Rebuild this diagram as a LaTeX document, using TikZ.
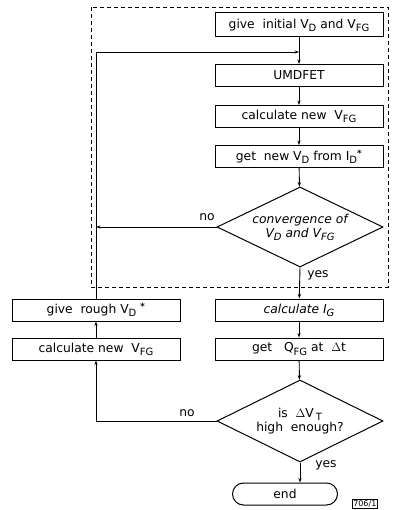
\documentclass[tikz,border=0pt]{standalone}
\usepackage{fontspec}
\setmainfont{DejaVu Sans}
\usetikzlibrary{shapes.geometric,arrows.meta}
\newcommand\sbs[1]{\raisebox{-0.45ex}{\fontsize{10}{11}\selectfont #1}}
\begin{document}
\begin{tikzpicture}[x=1pt,y=-1pt,
  font=\fontsize{12.3}{14}\selectfont,
  box/.style={draw,line width=1pt,minimum width=168pt,minimum height=22pt,inner sep=0pt},
  dia/.style={draw,line width=1pt,diamond,aspect=2,inner sep=0pt,minimum width=166pt,minimum height=80pt,align=center},
  arr/.style={line width=0.9pt,-{Stealth[length=4.5pt,width=3.2pt]}},
  lab/.style={inner sep=1pt}]
\useasboundingbox (0,0) rectangle (393,510);
\draw[line width=0.9pt,dash pattern=on 4pt off 3pt] (91,7) rectangle (388,287);
\node[box,minimum height=24pt] (b1) at (299,25) {give\ \ initial V\sbs{D} and V\sbs{FG}};
\coordinate (j1) at (299,52);
\node[box] (b2) at (299,75.5) {UMDFET};
\node[box] (b3) at (299,116.5) {calculate new\ \ V\sbs{FG}};
\node[box] (b4) at (299,156.5) {get\ \ new V\sbs{D} from I\sbs{D}\textsuperscript{\textbf{*}}};
\node[dia] (d1) at (300,227) {\itshape convergence of\\[0pt] \itshape V\sbs{D} and V\sbs{FG}};
\coordinate (c1) at (96,227);
\node[box] (b5) at (299,310) {\itshape calculate I\sbs{G}};
\node[box] (b6) at (299,349) {get\ \ \ Q\sbs{FG} at\ \ $\Delta$t};
\node[dia,minimum height=82pt] (d2) at (300,421) {is\ \ $\Delta$V\,\sbs{T}\\[0pt] high\ \ enough?};
\node[draw,line width=1pt,rounded corners=11pt,minimum width=105pt,minimum height=22pt,inner sep=0pt] (e) at (285,494) {end};
\node[box] (l1) at (96,310) {give\ \ rough V\sbs{D}\ \textsuperscript{\textbf{*}}};
\node[box] (l2) at (96,349) {calculate new\ \ V\sbs{FG}};
\node[draw,line width=0.6pt,inner sep=1pt,anchor=west,font=\fontsize{8}{9}\selectfont] (tag) at (352,504) {706/1};
% connectors
\draw[arr] (b1) -- (b2);
\draw[arr] (l1.north) |- (j1);
\draw[arr] (b2) -- (b3);
\draw[arr] (b3) -- (b4);
\draw[arr] (b4) -- (d1);
\draw[arr] (d1.west) -- (c1);
\draw[arr] (d1.south) -- (b5);
\draw[arr] (b5) -- (b6);
\draw[arr] (b6) -- (d2);
\draw[arr] (d2.west) -| (l2.south);
\draw[arr] (l2) -- (l1);
\draw[arr] (d2.south) -- (d2.south |- e.north);
\node[lab] (no1) at (207,217) {no};
\node[lab] (yes1) at (318,275) {yes};
\node[lab] (no2) at (187,413) {no};
\node[lab] (yes2) at (326,465) {yes};
\end{tikzpicture}
\end{document}
